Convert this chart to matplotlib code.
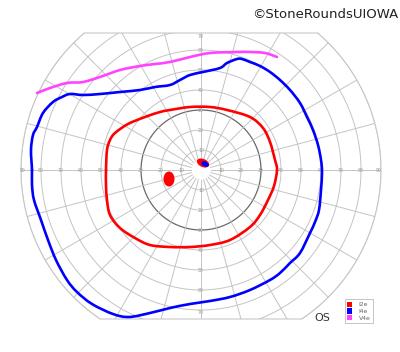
import numpy as np
import matplotlib
matplotlib.use("Agg")
import matplotlib.pyplot as plt
from matplotlib.patches import Ellipse, Patch, Polygon, PathPatch
from matplotlib.path import Path

# ---- data (degrees of visual field) ----
i4e_x = [-84.5, -85, -84, -82, -79, -74, -69.5, -65.5, -59, -50.5, -40.5, -30.5, -23, -15.5, -10.5, -5.5, 1, 9.5, 13, 18, 20.5,
         24.5, 29.5, 34.5, 39.5, 44.5, 49.5, 53, 56, 58.5, 60, 60.5, 60, 59, 57, 54.5, 49.5, 44.5, 39.5, 34.5, 24.5, 14.5,
         4.5, -5.5, -15.5, -25.5, -36, -44, -54.5, -62, -67, -72.5, -76.5, -80, -83.5, -84.5, -84.5]
i4e_y = [0, 10, 17.5, 21.5, 28.5, 34, 36.5, 38, 37.5, 38, 39, 40, 41.5, 42.5, 45, 47.5, 49, 51, 53.5, 55.5, 55.5,
         54, 52, 49, 45, 40, 33.5, 26.5, 20, 12.5, 5, -1, -10, -20, -26, -31.5, -41.5, -46.5, -51.5, -55, -60, -63.5,
         -65.5, -67, -69, -71.5, -73.5, -72, -67, -61, -55, -45, -35, -25, -15, -7.5, 0]

i2e_x = [-47.5, -47, -45.5, -43, -36.5, -28, -20.5, -15.5, -5.5, 4.5, 13, 24.5, 31, 34.5, 37, 38, 36.5, 33.5, 29.5,
         24.5, 14.5, 4.5, -5.5, -15.5, -25.5, -33, -40.5, -45.5, -47, -47.5, -47.5]
i2e_y = [0, 10, 15, 18.5, 23, 26.5, 29, 30, 31.5, 31.5, 30, 26.5, 21, 14, 5, 0, -8, -15, -22.5,
         -28.5, -35, -37.5, -38.5, -38.5, -37.5, -34, -29, -22.5, -15, -7.5, 0]

v4e_x = [-82, -75.5, -67, -59, -50.5, -40.5, -30.5, -23, -15.5, -5.5, 4.5, 18, 24.5, 32, 38]
v4e_y = [38.5, 41, 43.5, 44, 46.5, 50, 52, 53, 54, 56.5, 58.5, 59, 59, 58.5, 56.5]

# scotomas: (cx, cy, width, height, angle)
blind_spot_i2e = (-16, -4.5, 5.5, 7.5, 0)
central_i2e = (1, 3.5, 6.5, 4.0, -25)
central_i4e = (2, 3.0, 4.0, 2.5, -25)

labels = ["I2e", "I4e", "V4e"]
colors = ["#ff0000", "#0000ff", "#ff44ff"]

rings = [10, 20, 30, 40, 50, 60, 70, 80, 90]
meridians = np.arange(0, 360, 15)
top_limit, bottom_limit = 68.5, -74.5


def smooth_path(xs, ys, closed):
    """Catmull-Rom curve through the given points, drawn as cubic Bezier segments."""
    p = np.c_[xs, ys].astype(float)
    if closed:
        p = p[:-1]
        n = len(p)
        get = lambda i: p[i % n]
        segs = range(n)
    else:
        n = len(p)
        get = lambda i: p[min(max(i, 0), n - 1)]
        segs = range(n - 1)
    verts = [get(0)]
    codes = [Path.MOVETO]
    for i in segs:
        p0, p1, p2, p3 = get(i - 1), get(i), get(i + 1), get(i + 2)
        c1 = p1 + (p2 - p0) / 6.0
        c2 = p2 - (p3 - p1) / 6.0
        verts += [c1, c2, p2]
        codes += [Path.CURVE4] * 3
    return Path(np.array(verts), codes)


# ---- figure ----
fig = plt.figure(figsize=(4.0, 3.52), dpi=100)
ax = fig.add_axes([0, 0, 1, 1])
ax.set_xlim(-100.5, 99.5)
ax.set_ylim(-91, 85)
ax.set_aspect("equal")
ax.axis("off")

R = 90
a_top = np.degrees(np.arcsin(top_limit / R))
a_bot = np.degrees(np.arcsin(bottom_limit / R))
ang_right = np.linspace(a_bot, a_top, 100)
ang_left = np.linspace(180 - a_top, 180 - a_bot, 100)
pts = np.concatenate([
    np.c_[R * np.cos(np.radians(ang_right)), R * np.sin(np.radians(ang_right))],
    np.c_[R * np.cos(np.radians(ang_left)), R * np.sin(np.radians(ang_left))],
])
clip = Polygon(pts, closed=True, facecolor="none", edgecolor="#c8c8c8", lw=0.8, transform=ax.transData)
ax.add_patch(clip)

grid_c = "#c4c4c4"
t = np.linspace(0, 2 * np.pi, 400)
for r in rings:
    c = "#6a6a6a" if r == 30 else grid_c
    lw = 0.9 if r == 30 else 0.7
    ln, = ax.plot(r * np.cos(t), r * np.sin(t), color=c, lw=lw, zorder=1)
    ln.set_clip_path(clip)
for m in meridians:
    mr = np.radians(m)
    ln, = ax.plot([5 * np.cos(mr), 95 * np.cos(mr)], [5 * np.sin(mr), 95 * np.sin(mr)],
                  color=grid_c, lw=0.7, zorder=1)
    ln.set_clip_path(clip)

lab_kw = dict(fontsize=3.3, color="#999999", ha="center", va="center", zorder=2)
for r in rings:
    for sx in (-1, 1):
        xx = sx * (r - 1 if r == 90 else r)
        ax.text(xx, 0, str(r), **lab_kw)
for r in [10, 20, 30, 40, 50, 60]:
    ax.text(0, r, str(r), **lab_kw)
    ax.text(0, -r, str(r), **lab_kw)
ax.text(0, 67, "70", **lab_kw)
ax.text(0, -71.5, "70", **lab_kw)

# isopters
for xs, ys, col, closed in [(i2e_x, i2e_y, colors[0], True), (i4e_x, i4e_y, colors[1], True),
                            (v4e_x, v4e_y, colors[2], False)]:
    ax.add_patch(PathPatch(smooth_path(xs, ys, closed), facecolor="none", edgecolor=col,
                           lw=1.9, zorder=3, capstyle="round", joinstyle="round"))

for (cx, cy, w, h, a), col in [(blind_spot_i2e, colors[0]), (central_i2e, colors[0]), (central_i4e, colors[1])]:
    ax.add_patch(Ellipse((cx, cy), w, h, angle=a, facecolor=col, edgecolor="none", zorder=4))

# texts
fig.text(0.995, 0.978, "\u00a9StoneRoundsUIOWA", fontsize=9.5, color="#222222", ha="right", va="top")
fig.text(0.805, 0.097, "OS", fontsize=8, color="#333333", ha="center", va="center")

handles = [Patch(facecolor=c, edgecolor="none") for c in colors]
leg = fig.legend(handles, labels, loc="lower left", bbox_to_anchor=(0.862, 0.082),
                 fontsize=4.4, frameon=True, fancybox=False, edgecolor="#aaaaaa",
                 handlelength=0.9, handleheight=0.9, handletextpad=1.0, borderpad=0.35,
                 labelspacing=0.2, labelcolor="#666666", borderaxespad=0)
leg.get_frame().set_linewidth(0.6)

fig.savefig("out.png", dpi=100)
